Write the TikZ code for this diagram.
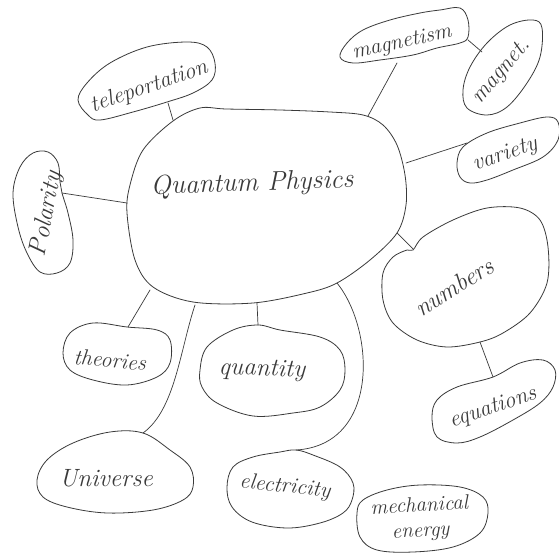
\documentclass[tikz,border=0pt]{standalone}
\begin{document}
\begin{tikzpicture}[x=1pt,y=-1pt,
  blob/.style={draw=ink, line width=0.8pt, line join=round},
  link/.style={draw=ink, line width=0.7pt, line cap=round},
  lbl/.style={text=ink, inner sep=1pt, font=\fontsize{#1}{#1}\selectfont\itshape}]
\definecolor{ink}{HTML}{3A3A3A}
\useasboundingbox[fill=white] (0,0) rectangle (559,556);

% ---------- blobs ----------
% central
\draw[blob] plot[smooth cycle, tension=0.55] coordinates {(127,213) (130,185) (143,150) (173,121) (200,108) (226,109) (280,110) (330,112) (363,115) (383,125) (397,145) (405,175) (406,205) (397,233) (370,260) (337,283) (307,293) (253,303) (193,302) (153,287) (135,260)};
% teleportation
\draw[blob] plot[smooth cycle, tension=0.6] coordinates {(78,100) (87,83) (110,63) (147,47) (187,42) (207,47) (215,63) (212,80) (193,93) (167,102) (133,112) (100,120) (88,115)};
% polarity
\draw[blob] plot[smooth cycle, tension=0.6] coordinates {(13,193) (20,167) (33,153) (48,152) (58,163) (60,182) (62,193) (68,213) (73,240) (70,263) (57,273) (40,272) (27,253) (18,227)};
% magnetism
\draw[blob] plot[smooth cycle, tension=0.6] coordinates {(340,57) (347,43) (363,30) (390,20) (420,13) (440,10) (460,8) (468,20) (468,37) (460,43) (437,48) (413,55) (380,60) (353,63)};
% magnet
\draw[blob] plot[smooth cycle, tension=0.6] coordinates {(463,90) (470,67) (487,43) (510,25) (533,20) (542,28) (540,57) (527,83) (507,107) (487,115) (467,108)};
% variety
\draw[blob] plot[smooth cycle, tension=0.6] coordinates {(460,177) (457,163) (463,147) (487,133) (520,123) (547,117) (558,122) (558,140) (543,157) (513,170) (487,180) (470,183)};
% numbers
\draw[blob] plot[smooth cycle, tension=0.55] coordinates {(413,250) (423,237) (453,220) (487,208) (520,208) (540,220) (548,247) (547,283) (530,313) (503,333) (480,342) (447,347) (417,340) (393,323) (383,300) (383,273) (393,257) (407,250)};
% equations
\draw[blob] plot[smooth cycle, tension=0.6] coordinates {(432,417) (437,400) (457,387) (493,377) (520,363) (543,360) (555,370) (553,387) (540,403) (513,420) (480,437) (457,443) (437,437)};
% theories
\draw[blob] plot[smooth cycle, tension=0.6] coordinates {(63,353) (70,333) (93,323) (127,327) (157,330) (170,340) (170,363) (157,377) (127,385) (93,380) (70,370)};
% quantity
\draw[blob] plot[smooth cycle, tension=0.6] coordinates {(200,370) (207,347) (233,330) (258,325) (280,330) (320,337) (340,350) (345,370) (340,390) (320,407) (293,413) (253,416) (217,403) (202,387)};
% universe
\draw[blob] plot[smooth cycle, tension=0.6] coordinates {(37,480) (47,460) (73,443) (110,432) (143,433) (170,450) (190,467) (193,487) (183,500) (153,510) (107,513) (67,507) (43,497)};
% electricity
\draw[blob] plot[smooth cycle, tension=0.6] coordinates {(227,487) (233,467) (253,457) (280,452) (296,450) (313,455) (340,467) (353,483) (352,500) (343,513) (320,523) (287,528) (252,522) (232,507)};
% mechanical energy
\draw[blob] plot[smooth cycle, tension=0.6] coordinates {(357,513) (363,500) (387,490) (420,485) (460,487) (483,497) (488,513) (480,533) (453,547) (413,552) (377,550) (360,537)};

% ---------- labels ----------
\node[lbl=27, rotate=2] (qp) at (252,184) {Quantum Physics};
\node[lbl=23, rotate=19] (tele) at (149,87) {teleportation};
\node[lbl=25, rotate=79] (pol) at (47,214) {Polarity};
\node[lbl=22, rotate=12] (magn) at (402,43) {magnetism};
\node[lbl=23, rotate=50] (mag) at (502,72) {magnet.};
\node[lbl=23, rotate=19] (var) at (505,155) {variety};
\node[lbl=25, rotate=32] (num) at (454,287) {numbers};
\node[lbl=23, rotate=19] (eq) at (493,408) {equations};
\node[lbl=22, rotate=-5] (theo) at (110,360) {theories};
\node[lbl=25, rotate=-2] (quant) at (262,370) {quantity};
\node[lbl=25] (uni) at (106,478) {Universe};
\node[lbl=22, rotate=-6] (elec) at (285,487) {electricity};
\node[text=ink, inner sep=1pt, align=center, font=\fontsize{21}{25}\selectfont\itshape, rotate=3] (mech) at (420,519) {mechanical\\energy};

% ---------- connector ends ----------
\coordinate (qp-tele) at (173,120);
\coordinate (tele-e) at (168,103);
\coordinate (qp-pol) at (127,203);
\coordinate (pol-e) at (62,193);
\coordinate (qp-magn) at (368,116);
\coordinate (magn-e) at (397,63);
\coordinate (magn-mag) at (468,40);
\coordinate (mag-e) at (482,52);
\coordinate (qp-var) at (406,163);
\coordinate (var-e) at (467,143);
\coordinate (qp-num) at (397,233);
\coordinate (num-e) at (413,249);
\coordinate (num-eq) at (480,342);
\coordinate (eq-e) at (493,377);
\coordinate (qp-theo) at (150,290);
\coordinate (theo-e) at (128,327);
\coordinate (qp-quant) at (257,303);
\coordinate (quant-e) at (258,325);
\coordinate (qp-uni) at (195,305);
\coordinate (uni-e) at (143,433);
\coordinate (qp-elec) at (337,283);
\coordinate (elec-e) at (296,450);

% ---------- connectors ----------
\draw[link] (qp-tele) -- (tele-e);
\draw[link] (qp-pol) -- (pol-e);
\draw[link] (qp-magn) -- (magn-e);
\draw[link] (magn-mag) -- (mag-e);
\draw[link] (qp-var) -- (var-e);
\draw[link] (qp-num) -- (num-e);
\draw[link] (num-eq) -- (eq-e);
\draw[link] (qp-theo) -- (theo-e);
\draw[link] (qp-quant) -- (quant-e);
\draw[link] (qp-uni) .. controls (180,350) and (175,410) .. (uni-e);
\draw[link] (qp-elec) .. controls (375,330) and (380,445) .. (elec-e);
\end{tikzpicture}
\end{document}
